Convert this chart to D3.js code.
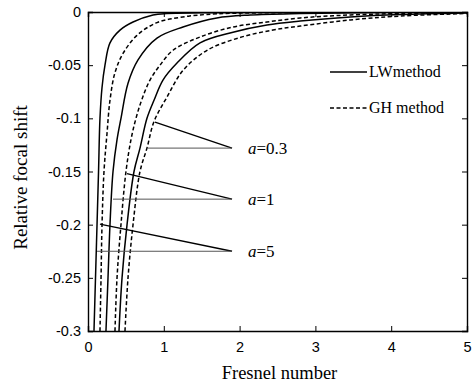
<!DOCTYPE html>
<html>
<head>
<meta charset="utf-8">
<script src="https://cdn.jsdelivr.net/npm/d3@7"></script>
<style>
  body { margin: 0; background: #fff; }
  svg { display: block; }
</style>
</head>
<body>
<svg id="chart"></svg>
<script>
// x = Fresnel number, y = relative focal shift
const lwA5 = [[0.079,-0.300],[0.099,-0.250],[0.119,-0.200],[0.139,-0.150],[0.158,-0.100],[0.185,-0.071],[0.224,-0.050],[0.290,-0.029],[0.422,-0.017],[0.594,-0.0094],[0.858,-0.0028],[1.04,-0.0014],[1.48,-0.0008],[2.8,-0.0003],[5,0]];
const ghA5 = [[0.158,-0.300],[0.172,-0.250],[0.185,-0.200],[0.211,-0.150],[0.251,-0.114],[0.290,-0.083],[0.356,-0.057],[0.462,-0.039],[0.646,-0.022],[0.910,-0.010],[1.25,-0.0047],[1.70,-0.0017],[2.80,-0.0006],[5,0]];
const lwA1 = [[0.237,-0.300],[0.264,-0.250],[0.290,-0.200],[0.330,-0.150],[0.383,-0.120],[0.435,-0.100],[0.528,-0.067],[0.660,-0.045],[0.910,-0.0245],[1.253,-0.0141],[1.70,-0.0056],[2.14,-0.0028],[2.80,-0.0014],[3.85,-0.0005],[5,0]];
const ghA1 = [[0.356,-0.300],[0.383,-0.250],[0.435,-0.200],[0.501,-0.150],[0.567,-0.120],[0.633,-0.100],[0.712,-0.082],[0.818,-0.064],[0.950,-0.050],[1.121,-0.036],[1.478,-0.0235],[1.913,-0.0141],[2.361,-0.0094],[2.80,-0.0056],[3.46,-0.0028],[4.12,-0.0014],[5,-0.0005]];
const lwA03 = [[0.409,-0.300],[0.449,-0.250],[0.515,-0.200],[0.607,-0.150],[0.686,-0.128],[0.778,-0.100],[0.871,-0.083],[0.989,-0.064],[1.174,-0.048],[1.478,-0.029],[1.913,-0.019],[2.361,-0.0122],[2.80,-0.0085],[3.46,-0.0047],[4.12,-0.0024],[5,-0.0009]];
const ghA03 = [[0.488,-0.300],[0.528,-0.250],[0.594,-0.200],[0.686,-0.150],[0.778,-0.128],[0.871,-0.103],[1.042,-0.080],[1.253,-0.055],[1.570,-0.036],[2.005,-0.024],[2.44,-0.0169],[2.80,-0.0132],[3.46,-0.0075],[4.12,-0.0038],[5,-0.0014]];

const xTicks = [0, 1, 2, 3, 4, 5];
const yTicks = [0, -0.05, -0.1, -0.15, -0.2, -0.25, -0.3];

const series = [
  {name: "LW", a: "5", values: lwA5, dashed: false},
  {name: "GH", a: "5", values: ghA5, dashed: true},
  {name: "LW", a: "1", values: lwA1, dashed: false},
  {name: "GH", a: "1", values: ghA1, dashed: true},
  {name: "LW", a: "0.3", values: lwA03, dashed: false},
  {name: "GH", a: "0.3", values: ghA03, dashed: true}
];

// label anchor and the two points each pointer touches
const labelA = ["0.3", "1", "5"];
const labelAt = [[1.90,-0.128],[1.90,-0.176],[1.90,-0.225]];
const slantTip = [[0.884,-0.1035],[0.515,-0.152],[0.158,-0.1995]];
const flatTip = [[0.778,-0.128],[0.330,-0.176],[0.119,-0.225]];

const W = 475, H = 388;
const margin = {top: 12, right: 8, bottom: 57, left: 88};
const iw = W - margin.left - margin.right;
const ih = H - margin.top - margin.bottom;

const svg = d3.select("#chart").attr("width", W).attr("height", H);
const g = svg.append("g").attr("transform", `translate(${margin.left},${margin.top})`);

const x = d3.scaleLinear().domain([0, 5]).range([0, iw]);
const y = d3.scaleLinear().domain([-0.3, 0]).range([ih, 0]);

svg.append("defs").append("clipPath").attr("id", "clip")
  .append("rect").attr("width", iw).attr("height", ih);

const tickFont = "Liberation Sans, Arial, sans-serif";
const serif = "Liberation Serif, Times New Roman, serif";

// axes, ticks pointing inward like matlab
const fmt = d => d === 0 ? "0" : String(d);
const xAxis = g.append("g").attr("transform", `translate(0,${ih})`)
  .call(d3.axisBottom(x).tickValues(xTicks).tickSize(-5).tickPadding(11).tickFormat(fmt));
const yAxis = g.append("g")
  .call(d3.axisLeft(y).tickValues(yTicks).tickSize(-5).tickPadding(7).tickFormat(fmt));
g.append("g").call(d3.axisTop(x).tickValues(xTicks).tickSize(-5).tickFormat(""));
g.append("g").attr("transform", `translate(${iw},0)`)
  .call(d3.axisRight(y).tickValues(yTicks).tickSize(-5).tickFormat(""));

g.selectAll(".domain").attr("stroke", "#000").attr("stroke-width", 1.4);
g.selectAll(".tick line").attr("stroke", "#000").attr("stroke-width", 1);
g.selectAll(".tick text").attr("fill", "#000")
  .style("font-family", tickFont).style("font-size", "14.5px");

// curves
const line = d3.line()
  .x(d => x(d[0]))
  .y(d => y(d[1]))
  .curve(d3.curveCatmullRom.alpha(0.5));

g.append("g").attr("clip-path", "url(#clip)")
  .selectAll("path")
  .data(series)
  .join("path")
  .attr("fill", "none")
  .attr("stroke", "#000")
  .attr("stroke-width", 1.5)
  .attr("stroke-dasharray", d => d.dashed ? "4,2.5" : null)
  .attr("d", d => line(d.values));

// pointer lines
const notes = g.append("g");
labelA.forEach((a, i) => {
  notes.append("line")
    .attr("x1", x(slantTip[i][0])).attr("y1", y(slantTip[i][1]))
    .attr("x2", x(labelAt[i][0])).attr("y2", y(labelAt[i][1]))
    .attr("stroke", "#000").attr("stroke-width", 1.4);
  notes.append("line")
    .attr("x1", x(flatTip[i][0])).attr("y1", y(flatTip[i][1]))
    .attr("x2", x(labelAt[i][0])).attr("y2", y(labelAt[i][1]))
    .attr("stroke", "#555").attr("stroke-width", 1);
  const t = notes.append("text")
    .attr("x", x(labelAt[i][0]) + 16)
    .attr("y", y(labelAt[i][1]) + 6)
    .style("font-family", serif).style("font-size", "17px");
  t.append("tspan").style("font-style", "italic").text("a");
  t.append("tspan").text("=" + a);
});

// legend
const legend = g.append("g");
const legendRows = [
  {label: "LWmethod", dashed: false, yy: 60},
  {label: "GH method", dashed: true, yy: 96}
];
legendRows.forEach(r => {
  legend.append("line")
    .attr("x1", 242).attr("x2", 279)
    .attr("y1", r.yy).attr("y2", r.yy)
    .attr("stroke", "#000").attr("stroke-width", 1.5)
    .attr("stroke-dasharray", r.dashed ? "4,2.5" : null);
  legend.append("text")
    .attr("x", 281).attr("y", r.yy + 5)
    .style("font-family", serif).style("font-size", "16px")
    .text(r.label);
});

// axis titles
svg.append("text")
  .attr("x", margin.left + iw / 2 + 2).attr("y", 379)
  .attr("text-anchor", "middle")
  .style("font-family", serif).style("font-size", "18.5px")
  .text("Fresnel number");

svg.append("text")
  .attr("transform", `translate(27,${margin.top + ih / 2 + 6}) rotate(-90)`)
  .attr("text-anchor", "middle")
  .style("font-family", serif).style("font-size", "19px")
  .text("Relative focal shift");
</script>
</body>
</html>
